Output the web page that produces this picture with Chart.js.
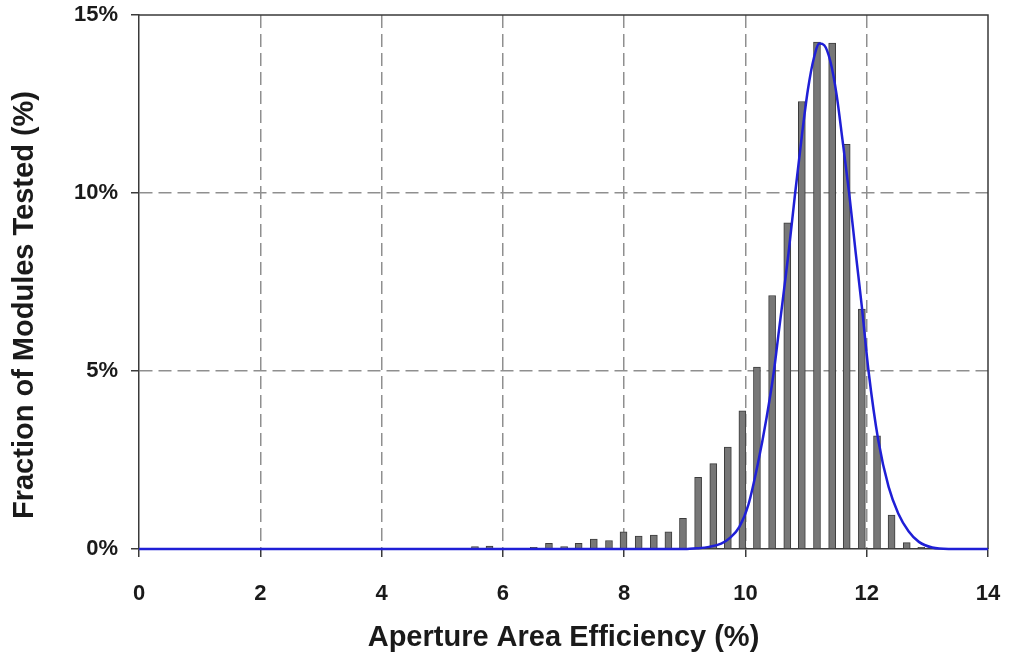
<!DOCTYPE html>
<html>
<head>
<meta charset="utf-8">
<script src="https://cdn.jsdelivr.net/npm/chart.js@4/dist/chart.umd.min.js"></script>
<style>
  html, body { margin: 0; padding: 0; background: #ffffff; }
  #wrap { width: 1010px; height: 661px; position: relative; }
</style>
</head>
<body>
<div id="wrap"><canvas id="c" width="1010" height="661"></canvas></div>
<script>
// ---- data ----
const binCenters = [5.54, 5.78, 6.51, 6.76, 7.01, 7.25, 7.50, 7.75, 7.99, 8.24, 8.49, 8.73, 8.97, 9.22, 9.47, 9.71, 9.95, 10.19, 10.44, 10.69, 10.93, 11.18, 11.43, 11.67, 11.92, 12.17, 12.41, 12.66, 12.90];
const fractionTested = [0.07, 0.08, 0.05, 0.16, 0.07, 0.16, 0.28, 0.24, 0.48, 0.36, 0.39, 0.48, 0.86, 2.01, 2.40, 2.86, 3.88, 5.11, 7.12, 9.16, 12.57, 14.24, 14.21, 11.37, 6.74, 3.18, 0.95, 0.18, 0.05];
const fitX = [0, 9.0, 9.2, 9.4, 9.6, 9.75, 9.9, 10.05, 10.2, 10.35, 10.47, 10.55, 10.71, 10.82, 10.93, 11.03, 11.13, 11.22, 11.30, 11.40, 11.50, 11.60, 11.71, 11.82, 11.92, 12.03, 12.19, 12.36, 12.52, 12.69, 12.86, 13.08, 13.35, 14];
const fitY = [0, 0, 0.02, 0.06, 0.15, 0.32, 0.62, 1.25, 2.35, 3.7, 5.0, 6.1, 8.3, 10.0, 11.6, 12.9, 13.8, 14.2, 14.15, 13.7, 12.8, 11.5, 10.0, 8.3, 6.8, 5.0, 3.06, 1.75, 1.0, 0.5, 0.2, 0.04, 0, 0];
const xTicks = [0, 2, 4, 6, 8, 10, 12, 14];
const yTicks = [0, 5, 10, 15];
const xTitle = 'Aperture Area Efficiency (%)';
const yTitle = 'Fraction of Modules Tested (%)';

const FONT = '"Liberation Sans", Arial, Helvetica, sans-serif';
const TEXT = '#1a1a1a';
const AXIS = '#3a3a3a';

const barData = binCenters.map((x, i) => ({ x: x, y: fractionTested[i] }));
const fitData = fitX.map((x, i) => ({ x: x, y: fitY[i] }));

const framePlugin = {
  id: 'frame',
  beforeDatasetsDraw(chart) {
    const { ctx, chartArea: a } = chart;
    ctx.save();
    ctx.strokeStyle = AXIS;
    ctx.lineWidth = 1.5;
    ctx.beginPath();
    ctx.moveTo(a.left, a.top);
    ctx.lineTo(a.right, a.top);
    ctx.lineTo(a.right, a.bottom);
    ctx.stroke();
    ctx.restore();
  }
};

const yTitlePlugin = {
  id: 'yTitle',
  afterDraw(chart) {
    const { ctx } = chart;
    ctx.save();
    ctx.translate(25, 305);
    ctx.rotate(-Math.PI / 2);
    ctx.font = 'bold 29px ' + FONT;
    ctx.fillStyle = TEXT;
    ctx.textAlign = 'center';
    ctx.textBaseline = 'middle';
    ctx.fillText(yTitle, 0, 0);
    ctx.restore();
  }
};

new Chart(document.getElementById('c'), {
  type: 'bar',
  data: {
    datasets: [
      {
        type: 'line',
        label: 'Fit',
        data: fitData,
        borderColor: '#1f1fd6',
        borderWidth: 2.5,
        pointRadius: 0,
        fill: false,
        cubicInterpolationMode: 'monotone',
        clip: false,
        order: 0
      },
      {
        type: 'bar',
        label: 'Modules',
        data: barData,
        backgroundColor: '#777777',
        borderColor: '#3c3c3c',
        borderWidth: 1,
        barThickness: 7,
        order: 1
      }
    ]
  },
  options: {
    responsive: false,
    animation: false,
    events: [],
    layout: { padding: { left: 0, right: 22, top: 15, bottom: 0 } },
    plugins: { legend: { display: false }, tooltip: { enabled: false } },
    scales: {
      x: {
        type: 'linear',
        min: 0, max: 14,
        offset: false,
        afterFit(s) { s.height = 112; s.paddingLeft = 0; s.paddingRight = 0; },
        afterBuildTicks(s) { s.ticks = xTicks.map(v => ({ value: v })); },
        ticks: {
          font: { family: FONT, size: 22, weight: 'bold' },
          color: TEXT,
          padding: 24,
          maxRotation: 0,
          autoSkip: false
        },
        grid: {
          offset: false,
          color: (c) => (c.tick && (c.tick.value === 0 || c.tick.value === 14)) ? 'rgba(0,0,0,0)' : '#8f8f8f',
          lineWidth: 1.5,
          tickLength: 8,
          tickColor: AXIS,
          tickWidth: 1.5,
          tickBorderDash: []
        },
        border: { display: true, color: AXIS, width: 1.5, dash: [13, 6] },
        title: {
          display: true,
          text: xTitle,
          color: TEXT,
          font: { family: FONT, size: 29, weight: 'bold' },
          padding: { top: 0, bottom: 6 }
        }
      },
      y: {
        type: 'linear',
        min: 0, max: 15,
        afterFit(s) { s.width = 139; s.paddingTop = 0; s.paddingBottom = 0; },
        afterBuildTicks(s) { s.ticks = yTicks.map(v => ({ value: v })); },
        ticks: {
          font: { family: FONT, size: 22, weight: 'bold' },
          color: TEXT,
          padding: 13,
          callback: (v) => v + '%'
        },
        grid: {
          color: (c) => (c.tick && (c.tick.value === 0 || c.tick.value === 15)) ? 'rgba(0,0,0,0)' : '#8f8f8f',
          lineWidth: 1.5,
          tickLength: 8,
          tickColor: AXIS,
          tickWidth: 1.5,
          tickBorderDash: []
        },
        border: { display: true, color: AXIS, width: 1.5, dash: [13, 6] }
      }
    }
  },
  plugins: [framePlugin, yTitlePlugin]
});
</script>
</body>
</html>
